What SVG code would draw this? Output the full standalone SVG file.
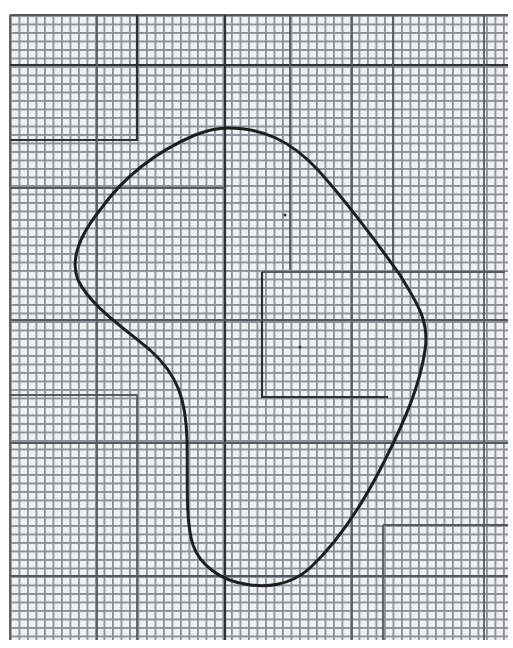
<svg xmlns="http://www.w3.org/2000/svg" width="513" height="648" viewBox="0 0 513 648">
<defs>
<pattern id="fine" x="10" y="15" width="8.5" height="8.5" patternUnits="userSpaceOnUse">
<rect width="8.5" height="8.5" fill="#eef0f2"/>
<path d="M0.8 0V8.5M0 0.8H8.5" stroke="#8c9096" stroke-width="2"/>
</pattern>
<style>
.maj{stroke:#2e3034;stroke-width:2.2;fill:none}
.med{stroke:#55585d;stroke-width:1.8;fill:none}
.blob{stroke:#1e1e1e;stroke-width:3;fill:none;stroke-linejoin:round}
</style>
</defs>
<rect width="513" height="648" fill="#ffffff"/>
<rect x="10" y="15" width="498" height="625" fill="url(#fine)"/>
<g id="grid-major">
<path class="med" d="M10 15H508M10 15V640"/>
<path class="maj" d="M10 65H508"/>
<path class="maj" d="M137 15V140H10"/>
<path class="med" d="M97 15V640"/>
<path class="maj" d="M225 15V640"/>
<path class="med" d="M290 15V270"/>
<path class="med" d="M352 15V640"/>
<path class="med" d="M393 15V272"/>
<path class="med" d="M484 15V640"/>
<path class="med" d="M10 188H225"/>
<path class="med" d="M262 272H505"/>
<path class="maj" d="M262 272V397H388"/>
<path class="med" d="M10 320H508"/>
<path class="med" d="M10 395H137V640"/>
<path class="med" d="M10 443H508"/>
<path class="med" d="M383 525H508M383 525V640"/>
<path class="med" d="M10 576H508"/>
</g>
<g id="shape">
<path class="blob" d="M228 128C262 128 290 140 318 170C345 200 375 240 400 275C415 300 430 320 425 350C420 385 405 420 385 460C365 500 340 540 310 568C290 586 265 588 245 584C220 580 200 565 193 545C185 520 188 480 187 440C186 400 178 375 150 350C120 325 90 305 78 280C70 260 80 235 100 210C125 175 160 150 195 135C210 129 220 128 228 128Z"/>
<circle cx="285" cy="215" r="1.5" fill="#333"/>
<circle cx="300" cy="347" r="1.5" fill="#333"/>
</g>
</svg>
